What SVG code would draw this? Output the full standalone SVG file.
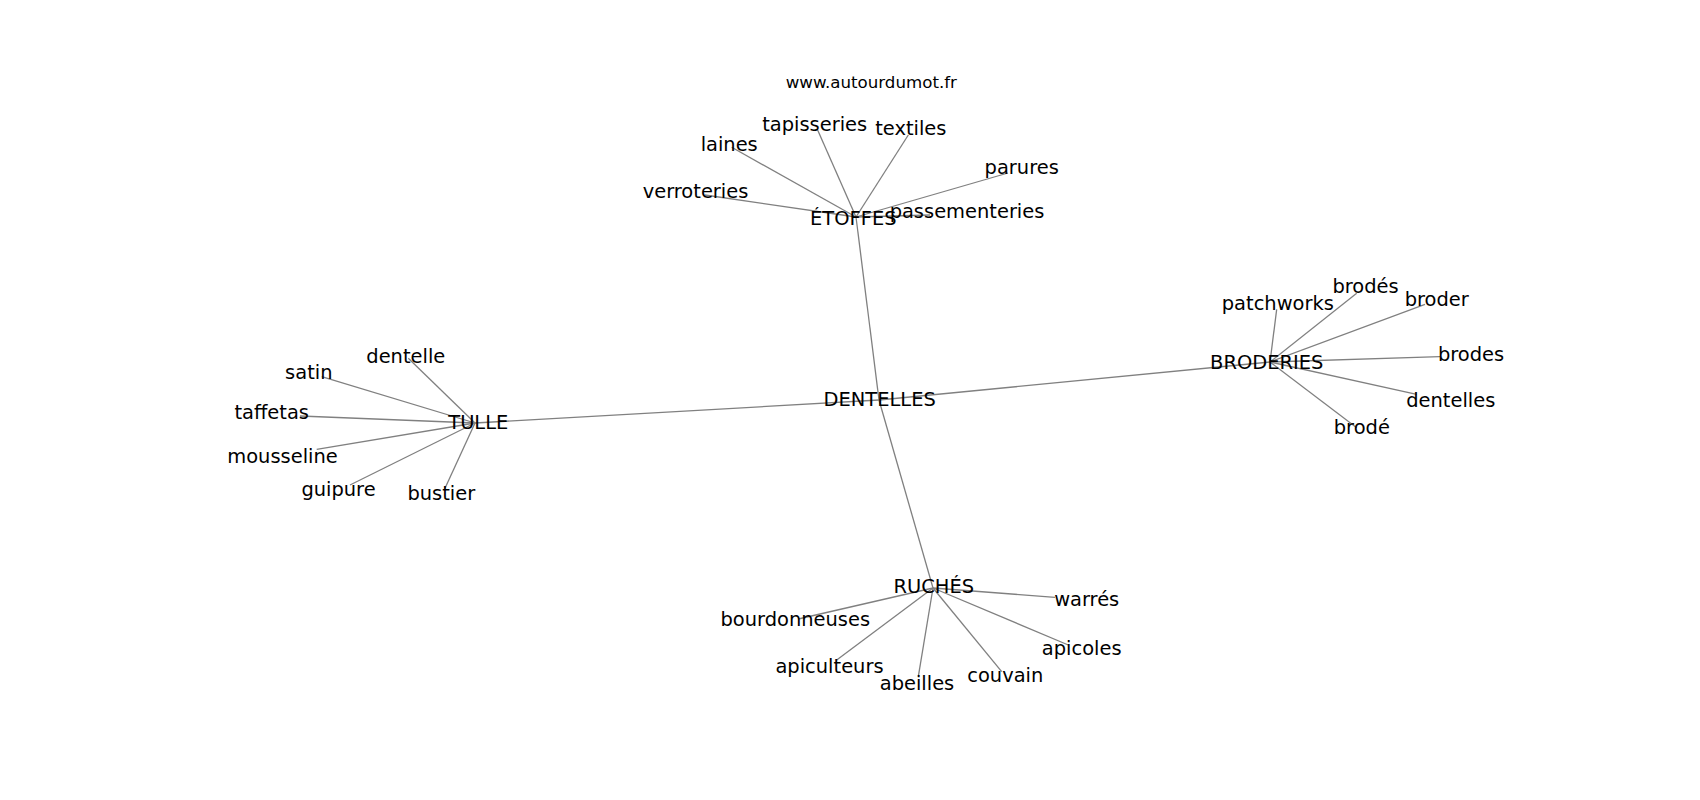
<svg xmlns="http://www.w3.org/2000/svg" width="1700" height="800" viewBox="0 0 1700 800">
<style>
.e{stroke:#808080;stroke-width:1.3;fill:none}
text{font-family:"DejaVu Sans",sans-serif;font-size:19.44px;fill:#000;text-anchor:middle}
.t{font-size:16.67px}
</style>
<rect width="1700" height="800" fill="#fff"/>
<g id="edges">
<line class="e" x1="879" y1="400" x2="856" y2="217"/>
<line class="e" x1="879" y1="400" x2="475" y2="423"/>
<line class="e" x1="879" y1="400" x2="1270" y2="362"/>
<line class="e" x1="879" y1="400" x2="933" y2="588"/>
<line class="e" x1="856" y1="217" x2="705" y2="195"/>
<line class="e" x1="856" y1="217" x2="731.7" y2="147.3"/>
<line class="e" x1="856" y1="217" x2="817.3" y2="129.3"/>
<line class="e" x1="856" y1="217" x2="908.3" y2="135"/>
<line class="e" x1="856" y1="217" x2="1008" y2="173"/>
<line class="e" x1="856" y1="217" x2="930" y2="215"/>
<line class="e" x1="1270" y1="362" x2="1276.7" y2="309.3"/>
<line class="e" x1="1270" y1="362" x2="1356.7" y2="293.3"/>
<line class="e" x1="1270" y1="362" x2="1425" y2="304.3"/>
<line class="e" x1="1270" y1="362" x2="1440" y2="356.7"/>
<line class="e" x1="1270" y1="362" x2="1416.7" y2="394.3"/>
<line class="e" x1="1270" y1="362" x2="1356.7" y2="427.7"/>
<line class="e" x1="475" y1="423" x2="408.3" y2="358.3"/>
<line class="e" x1="475" y1="423" x2="321.7" y2="376.7"/>
<line class="e" x1="475" y1="423" x2="300" y2="416"/>
<line class="e" x1="475" y1="423" x2="316.7" y2="449.3"/>
<line class="e" x1="475" y1="423" x2="350" y2="485"/>
<line class="e" x1="475" y1="423" x2="445" y2="488.3"/>
<line class="e" x1="933" y1="588" x2="798.3" y2="619"/>
<line class="e" x1="933" y1="588" x2="836.7" y2="660"/>
<line class="e" x1="933" y1="588" x2="918.3" y2="676.7"/>
<line class="e" x1="933" y1="588" x2="1001.7" y2="671.7"/>
<line class="e" x1="933" y1="588" x2="1068.3" y2="645"/>
<line class="e" x1="933" y1="588" x2="1055" y2="597.3"/>
</g>
<text class="t" x="871.3" y="88.3">www.autourdumot.fr</text>
<g id="n-dentelles-hub"><text x="879.7" y="406">DENTELLES</text></g>
<g id="n-etoffes"><text x="853.3" y="225">ÉTOFFES</text></g>
<g id="n-tulle"><text x="478.3" y="428.5">TULLE</text></g>
<g id="n-broderies"><text x="1266.7" y="369">BRODERIES</text></g>
<g id="n-ruches"><text x="933.8" y="593.3">RUCHÉS</text></g>
<g id="n-tapisseries"><text x="814.7" y="131">tapisseries</text></g>
<g id="n-textiles"><text x="910.8" y="135">textiles</text></g>
<g id="n-laines"><text x="729.2" y="151">laines</text></g>
<g id="n-verroteries"><text x="695.5" y="198.3">verroteries</text></g>
<g id="n-passementeries"><text x="967" y="218.3">passementeries</text></g>
<g id="n-parures"><text x="1021.7" y="174.3">parures</text></g>
<g id="n-patchworks"><text x="1277.8" y="310">patchworks</text></g>
<g id="n-brodes-acc"><text x="1365.5" y="292.7">brodés</text></g>
<g id="n-broder"><text x="1436.7" y="305.7">broder</text></g>
<g id="n-brodes"><text x="1471" y="360.7">brodes</text></g>
<g id="n-dentelles"><text x="1450.8" y="406.7">dentelles</text></g>
<g id="n-brode"><text x="1361.8" y="434.3">brodé</text></g>
<g id="n-dentelle"><text x="405.8" y="363.3">dentelle</text></g>
<g id="n-satin"><text x="308.8" y="379.3">satin</text></g>
<g id="n-taffetas"><text x="271.7" y="419.3">taffetas</text></g>
<g id="n-mousseline"><text x="282.5" y="462.7">mousseline</text></g>
<g id="n-guipure"><text x="338.5" y="496">guipure</text></g>
<g id="n-bustier"><text x="441.3" y="500">bustier</text></g>
<g id="n-bourdonneuses"><text x="795.3" y="626">bourdonneuses</text></g>
<g id="n-apiculteurs"><text x="829.5" y="673.3">apiculteurs</text></g>
<g id="n-abeilles"><text x="917" y="690">abeilles</text></g>
<g id="n-couvain"><text x="1005.3" y="681.7">couvain</text></g>
<g id="n-warres"><text x="1086.7" y="606">warrés</text></g>
<g id="n-apicoles"><text x="1081.7" y="655">apicoles</text></g>
</svg>
